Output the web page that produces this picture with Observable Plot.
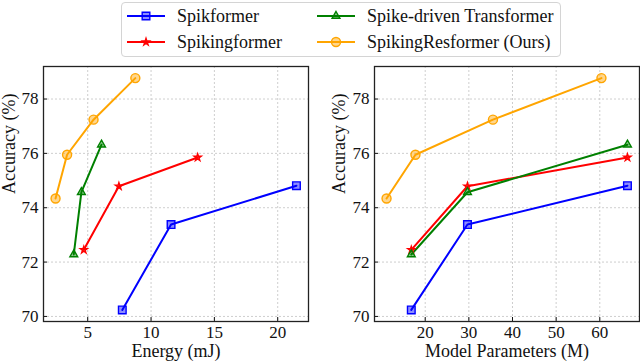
<!DOCTYPE html>
<html><head><meta charset="utf-8">
<script src="https://cdn.jsdelivr.net/npm/d3@7"></script>
<script src="https://cdn.jsdelivr.net/npm/@observablehq/plot@0.6"></script>
<style>
body{margin:0;background:#fff;}
#wrap{position:relative;width:640px;height:362px;font-family:"Liberation Serif","Times New Roman",serif;overflow:hidden;}
#left,#right{position:absolute;top:0;}
#left{left:0}#right{left:320px}
#legend{position:absolute;left:121px;top:2px;width:438px;height:53px;border:1px solid #d4d4d4;border-radius:4px;background:#fff;box-sizing:content-box;}
.item{position:absolute;font-size:18px;height:26px;display:flex;align-items:center;white-space:nowrap;color:#111;}
.item svg{margin-right:12px;}
</style></head><body>
<div id="wrap"><div id="left"></div><div id="right"></div><div id="legend"></div></div>
<script>
// ---- data ----
const seriesNames = ["Spikformer", "Spikingformer", "Spike-driven Transformer", "SpikingResformer (Ours)"];
const seriesColors = ["blue", "red", "green", "orange"];
const seriesSymbols = ["square", "star", "triangle", "circle"];

const energySpikformer = [7.73, 11.58, 21.48];
const energySpikingformer = [4.69, 7.46, 13.68];
const energySpikeDriven = [3.90, 4.50, 6.09];
const energyResformer = [2.46, 3.37, 5.46, 8.76];

const paramsSpikformer = [16.81, 29.68, 66.34];
const paramsSpikingformer = [16.81, 29.68, 66.34];
const paramsSpikeDriven = [16.81, 29.68, 66.34];
const paramsResformer = [11.14, 17.76, 35.52, 60.38];

const accSpikformer = [70.24, 73.38, 74.81];
const accSpikingformer = [72.45, 74.79, 75.85];
const accSpikeDriven = [72.28, 74.57, 76.32];
const accResformer = [74.34, 75.95, 77.24, 78.77];

const yTicks = [70, 72, 74, 76, 78];
const energyTicks = [5, 10, 15, 20];
const paramTicks = [20, 30, 40, 50, 60];

// marker radii per symbol (style only)
const markerR = {square: 4.3, star: 2.2, triangle: 2.9, circle: 4.5};

// ---- build table ----
const energies = [energySpikformer, energySpikingformer, energySpikeDriven, energyResformer];
const params = [paramsSpikformer, paramsSpikingformer, paramsSpikeDriven, paramsResformer];
const accs = [accSpikformer, accSpikingformer, accSpikeDriven, accResformer];
const rows = [];
seriesNames.forEach((s, i) => {
  accs[i].forEach((a, j) => rows.push({series: s, energy: energies[i][j], params: params[i][j], acc: a}));
});

function pad(vals) {
  const [lo, hi] = d3.extent(vals);
  const m = (hi - lo) * 0.05;
  return [lo - m, hi + m];
}

function panel(xKey, xTicks, xLabel, marginLeft, marginRight, yLabelDx) {
  const dots = seriesNames.map((s, i) =>
    Plot.dot(rows.filter(d => d.series === s), {
      x: xKey, y: "acc", symbol: "series", stroke: "series", fill: "series",
      fillOpacity: 0.45, r: markerR[seriesSymbols[i]], strokeWidth: 1.4
    }));
  return Plot.plot({
    width: 320, height: 362,
    marginLeft, marginRight, marginTop: 66, marginBottom: 41,
    style: {fontFamily: '"Liberation Serif","Times New Roman",serif', fontSize: "17px", color: "#111", background: "transparent"},
    x: {domain: pad(rows.map(d => d[xKey]))},
    y: {domain: pad(rows.map(d => d.acc))},
    color: {domain: seriesNames, range: seriesColors},
    symbol: {domain: seriesNames, range: seriesSymbols},
    marks: [
      Plot.gridX(xTicks, {stroke: "#c8c8c8", strokeOpacity: 1, strokeDasharray: "2,2", strokeWidth: 0.9}),
      Plot.gridY(yTicks, {stroke: "#c8c8c8", strokeOpacity: 1, strokeDasharray: "2,2", strokeWidth: 0.9}),
      Plot.line(rows, {x: xKey, y: "acc", z: "series", stroke: "series", strokeWidth: 2}),
      ...dots,
      Plot.axisX(xTicks, {tickSize: -4, tickPadding: 8, label: null, fontSize: 17}),
      Plot.axisY(yTicks, {tickSize: -4, tickPadding: 9, label: null, fontSize: 17}),
      Plot.frame({stroke: "#222", strokeWidth: 1.3}),
      Plot.text([xLabel], {frameAnchor: "bottom", dy: 30, fontSize: 18, lineAnchor: "middle", fill: "#111"}),
      Plot.text(["Accuracy (%)"], {frameAnchor: "left", dx: yLabelDx, rotate: -90, fontSize: 18, lineAnchor: "middle", fill: "#111"})
    ]
  });
}

document.getElementById("left").append(panel("energy", energyTicks, "Energy (mJ)", 43, 12, -34));
document.getElementById("right").append(panel("params", paramTicks, "Model Parameters (M)", 54, 1, -35));

// ---- legend ----
const symbolMap = {square: d3.symbolSquare, star: d3.symbolStar, triangle: d3.symbolTriangle, circle: d3.symbolCircle};
const legend = document.getElementById("legend");
const pos = [[5, 0], [5, 26], [195, 0], [195, 26]];
seriesNames.forEach((s, i) => {
  const div = document.createElement("div");
  div.className = "item";
  div.style.left = pos[i][0] + "px";
  div.style.top = pos[i][1] + "px";
  const rr = markerR[seriesSymbols[i]];
  const path = d3.symbol(symbolMap[seriesSymbols[i]], Math.PI * rr * rr)();
  div.innerHTML = `<svg width="38" height="26"><line x1="0" x2="38" y1="13" y2="13" stroke="${seriesColors[i]}" stroke-width="2"/>` +
    `<path transform="translate(19,13)" d="${path}" fill="${seriesColors[i]}" fill-opacity="0.45" stroke="${seriesColors[i]}" stroke-width="1.4"/></svg>` +
    `<span>${s}</span>`;
  legend.append(div);
});
</script>
</body></html>
